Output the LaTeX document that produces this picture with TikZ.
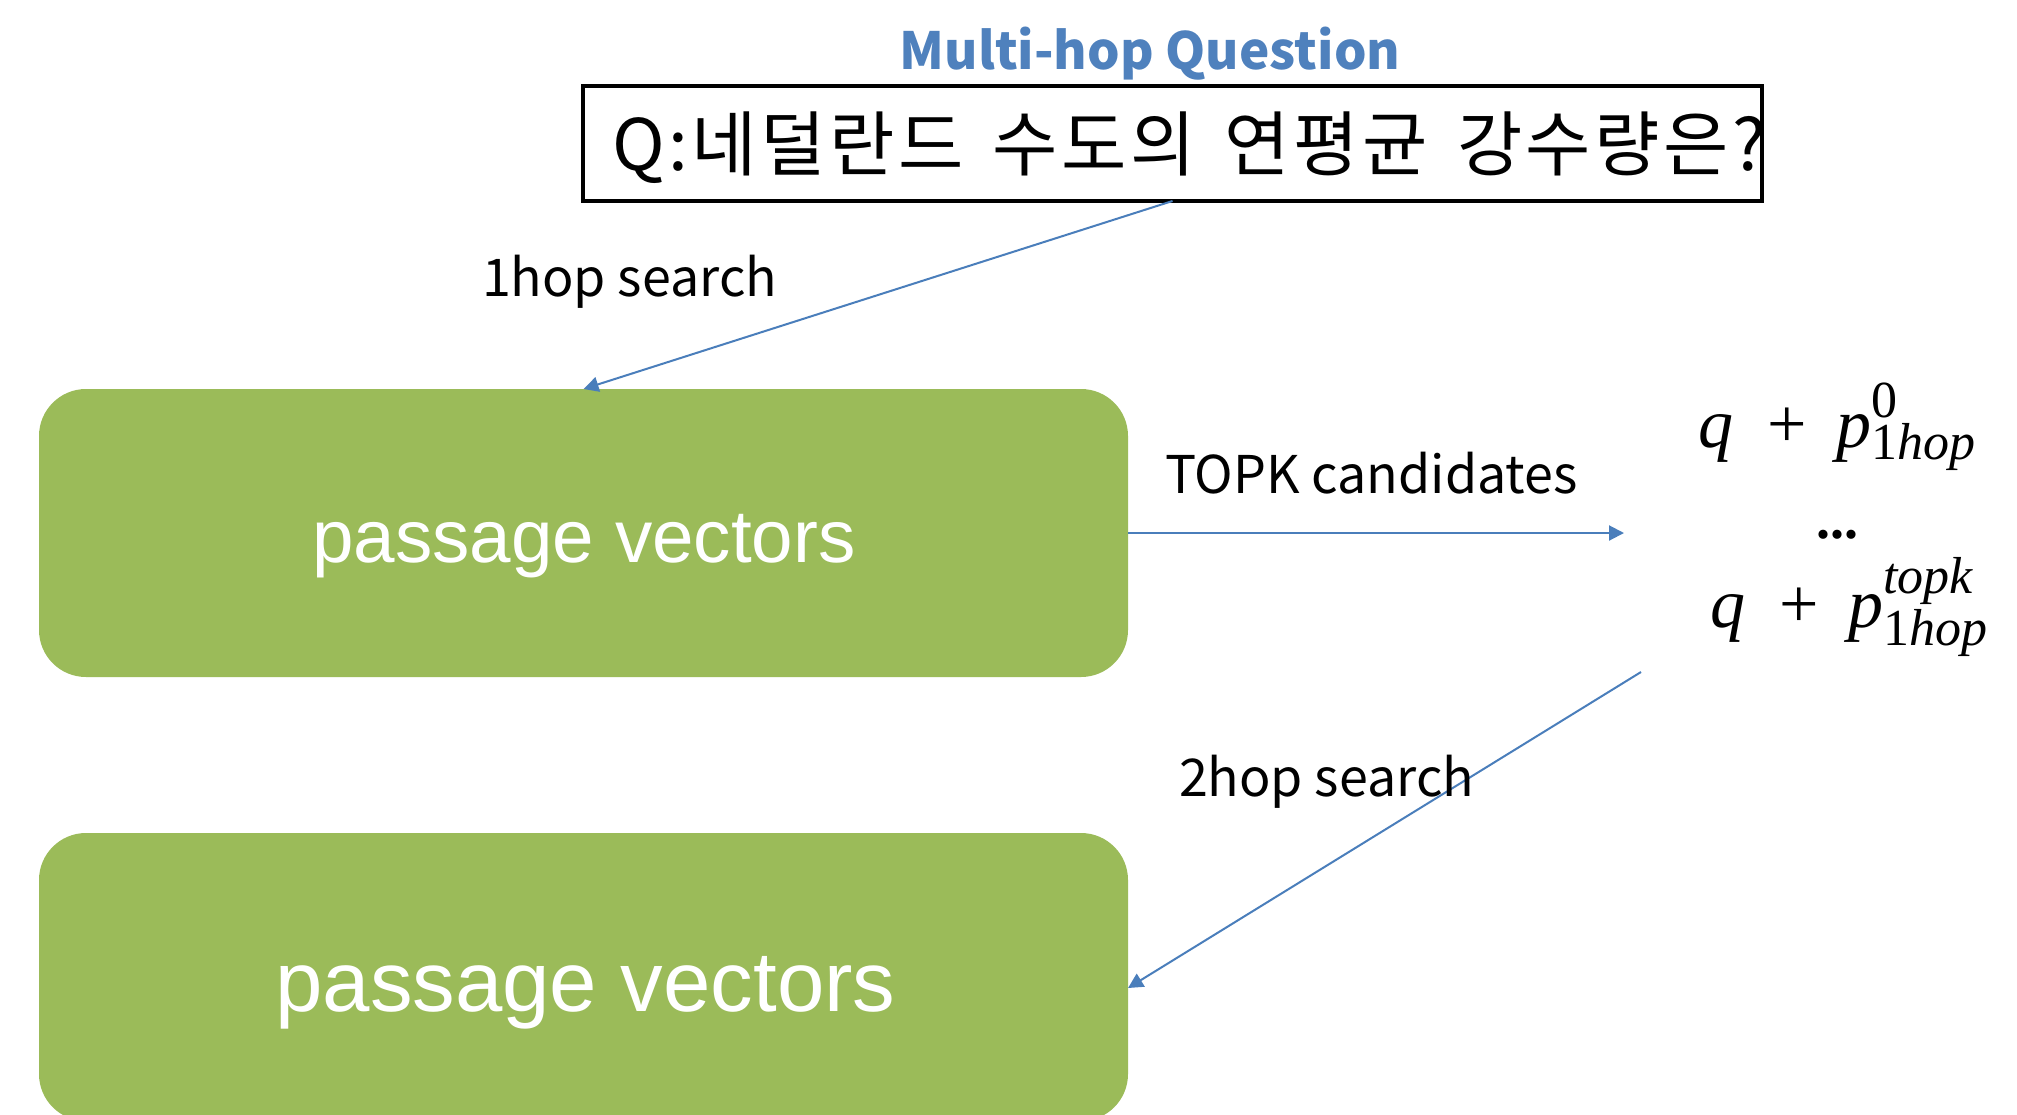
\documentclass[tikz,border=0pt]{standalone}
\usepackage{fontspec}
\setmainfont{Liberation Sans}
\newfontfamily\krfont{Noto Sans CJK KR}
\newfontfamily\krwide[LetterSpace=5,WordSpace=1.5]{Noto Sans CJK KR}
\newfontfamily\formfont{Liberation Serif}
\usetikzlibrary{arrows.meta}
\definecolor{leaf}{HTML}{9BBB59}
\definecolor{linkblue}{HTML}{4A7EBB}
\definecolor{titleblue}{HTML}{4F81BD}

% script size used in the candidate formulas
\newcommand\scrsize{\fontsize{26}{30}\selectfont}
% p with a raised superscript and a lowered subscript
\newcommand\pscript[4]{\textit{p}\rlap{\raisebox{#3}{\scrsize #1}}\raisebox{-#4}{\scrsize #2}}

\begin{document}
\begin{tikzpicture}[x=0.5pt,y=-0.5pt,
  every node/.style={inner sep=0pt, outer sep=0pt},
  vecbox/.style={fill=leaf, rounded corners=23.5pt, minimum width=544.5pt, minimum height=144pt},
  vectext/.style={text=white, anchor=base},
  link/.style={draw=linkblue, line width=1pt, -{Triangle[length=7.5pt,width=7.5pt]}},
  lbl/.style={font=\krfont\fontsize{26}{31}\selectfont, anchor=base west},
  formline/.style={font=\formfont\fontsize{35}{42}\selectfont, anchor=base west},
]
\useasboundingbox (0,0) rectangle (2017,1114);

% question
\node[font=\krfont\bfseries\fontsize{25.6}{31}\selectfont, text=titleblue, anchor=base] (title) at (1150,69) {Multi-hop Question};
\node[draw=black, line width=2pt, minimum width=589.5pt, minimum height=57.5pt] (qbox) at (1172.5,143.5) {};
\node[font=\krwide\fontsize{35.5}{42}\selectfont, anchor=base west] (qtext) at (612,170) {Q:네덜란드 수도의 연평균 강수량은?};

% passage vector stores
\node[vecbox] (box1) at (583.5,533) {};
\node[vectext, font=\fontsize{37.3}{45}\selectfont] (box1text) at (584,562) {passage vectors};
\node[vecbox] (box2) at (583.5,977) {};
\node[vectext, font=\fontsize{42.6}{51}\selectfont] (box2text) at (585.5,1011) {passage vectors};

% candidate queries
\node[formline] (cand0) at (1698,447) {\textit{q}\hspace{17pt}+\hspace{15pt}\pscript{0}{1\textit{hop}}{15pt}{6pt}};
\node[font=\formfont\bfseries\fontsize{28}{34}\selectfont, anchor=base] (dots) at (1837,538) {...};
\node[formline] (candk) at (1710,627) {\textit{q}\hspace{17pt}+\hspace{15pt}\pscript{\textit{topk}}{1\textit{hop}}{17pt}{9pt}};
\coordinate (candin) at (1624,533);
\coordinate (candout) at (1641,672);

% connectors
\draw[link] (qbox.south) -- (box1.north);
\draw[link] (box1.east) -- (candin);
\draw[link] (candout) -- ([yshift=-5.5pt]box2.east);

% labels
\node[lbl] (hop1) at (482,296) {1hop search};
\node[lbl] (topk) at (1165,493) {TOPK candidates};
\node[lbl] (hop2) at (1179,796) {2hop search};
\end{tikzpicture}
\end{document}
